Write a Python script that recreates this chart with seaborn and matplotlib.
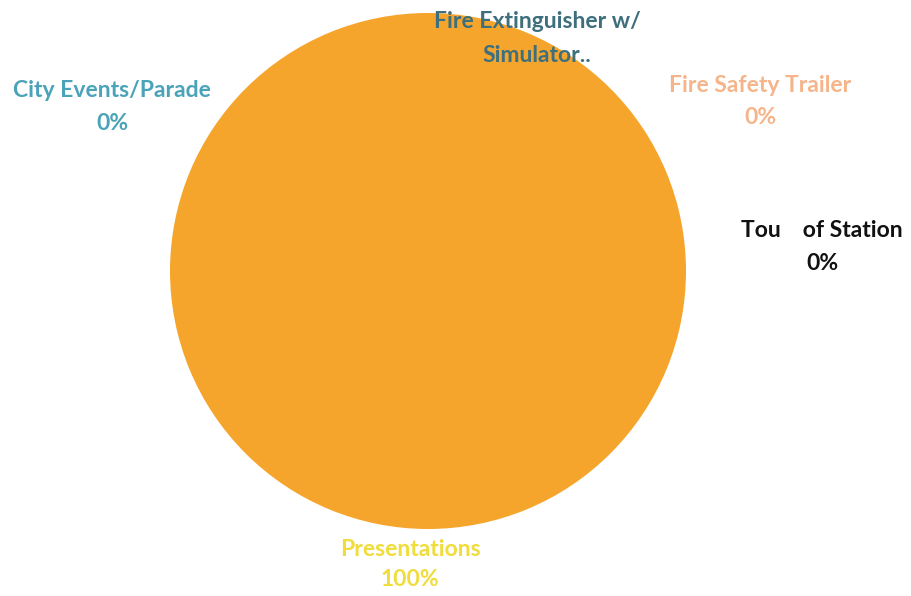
import matplotlib
matplotlib.use("Agg")
import matplotlib.pyplot as plt
import seaborn as sns

categories = ["City Events/Parade", "Fire Extinguisher w/", "Fire Safety Trailer",
              "Tou    of Station", "Presentations"]
second_lines = ["0%", "Simulator..", "0%", "0%", "100%"]
values = [0, 0, 0, 0, 100]

slice_colors = ["#4AA3B8", "#3F6F7A", "#F5B58A", "#222222", "#F6A52C"]
text_colors = ["#4AA3B8", "#3D6F7C", "#F5B58A", "#111111", "#F0DC3A"]
# label line centres in figure pixels (x, y_first_line, y_second_line), y from top
label_pos = [(112, 90, 123), (537, 22, 56), (760, 86, 117), (822, 230, 263), (410, 550, 580)]

sns.set_theme(style="white")
plt.rcParams["font.family"] = ["Lato", "DejaVu Sans"]

W, H = 912, 596
fig = plt.figure(figsize=(W / 100, H / 100), dpi=100)
cx, cy, r = 428, 271, 258
ax = fig.add_axes([(cx - r) / W, (H - cy - r) / H, 2 * r / W, 2 * r / H])
ax.pie(values, colors=slice_colors, startangle=90, counterclock=False,
       wedgeprops={"linewidth": 0})
ax.set_xlim(-1, 1)
ax.set_ylim(-1, 1)
ax.set_aspect("equal")
ax.axis("off")

for cat, sec, col, (px, py1, py2) in zip(categories, second_lines, text_colors, label_pos):
    fig.text(px / W, 1 - py1 / H, cat, ha="center", va="center", color=col,
             fontsize=16.5, fontweight="bold")
    fig.text(px / W, 1 - py2 / H, sec, ha="center", va="center", color=col,
             fontsize=16.5, fontweight="bold")

fig.savefig("out.png", dpi=100, facecolor="white")
